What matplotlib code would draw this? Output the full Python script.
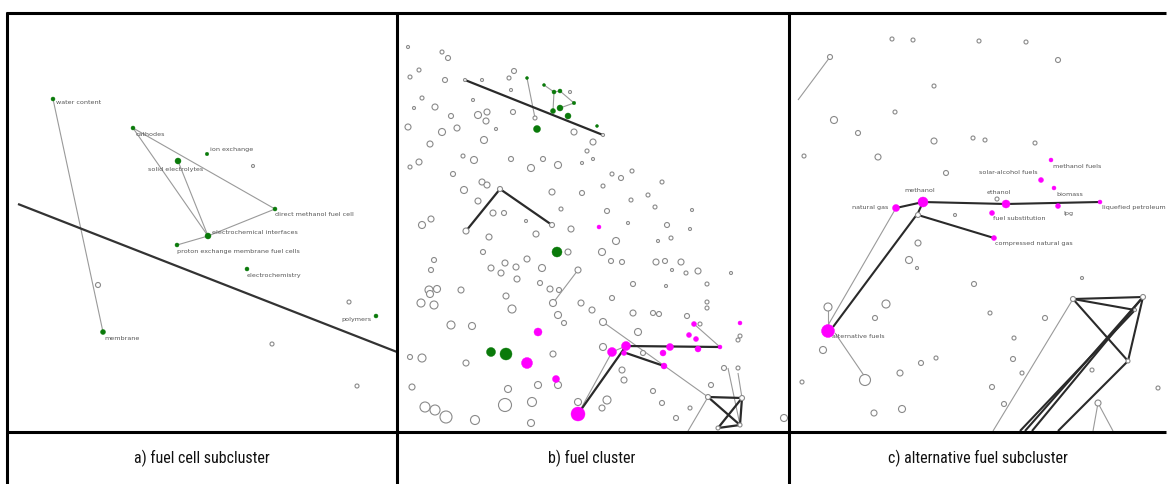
import matplotlib
matplotlib.use("Agg")
import matplotlib.pyplot as plt
from matplotlib import font_manager

W, H = 1169, 484

# ---------------- panel a: fuel cell subcluster ----------------
a_green = [(53, 99, 4), (133, 128, 4), (207, 154, 3.5), (178, 161, 6), (275, 209, 4),
           (208, 236, 6), (177, 245, 4), (247, 269, 4), (376, 316, 4), (103, 332, 5)]
a_labels = [("water content", 56, 103, "left"), ("cathodes", 136, 134, "left"),
            ("ion exchange", 210, 150, "left"), ("solid electrolytes", 148, 170, "left"),
            ("direct methanol fuel cell", 275, 214, "left"),
            ("electrochemical interfaces", 212, 233, "left"),
            ("proton exchange membrane fuel cells", 177, 251, "left"),
            ("electrochemistry", 247, 276, "left"), ("polymers", 371, 319, "right"),
            ("membrane", 104, 338, "left")]
a_gray = [(98, 285, 5), (253, 166, 3), (349, 302, 4), (272, 344, 4), (357, 386, 4)]
a_thin = [(0, 9), (1, 4), (1, 5), (3, 5), (5, 4), (6, 5)]
a_thick = [((18, 204), (397, 352))]

# ---------------- panel b: fuel cluster ----------------
b_gray = [(408, 47, 3), (442, 52, 4), (448, 58, 5), (419, 70, 4), (410, 77, 4), (445, 80, 5),
          (482, 80, 3), (509, 78, 4), (514, 71, 5), (422, 98, 4), (435, 107, 6), (414, 108, 3),
          (473, 100, 3), (451, 116, 5), (478, 115, 7), (487, 112, 6), (486, 121, 6), (513, 112, 5),
          (511, 90, 3), (408, 127, 6), (442, 132, 7), (457, 128, 6), (496, 129, 3), (430, 144, 6),
          (484, 140, 7), (535, 118, 4), (574, 132, 6), (593, 142, 6), (587, 151, 4), (593, 159, 3),
          (582, 163, 3), (410, 167, 4), (419, 162, 6), (463, 156, 4), (474, 160, 7), (511, 159, 5),
          (531, 168, 7), (543, 159, 5), (558, 165, 7), (453, 174, 5), (612, 174, 4), (621, 178, 5),
          (632, 171, 4), (662, 182, 4), (482, 182, 6), (487, 185, 6), (464, 190, 7), (552, 192, 6),
          (582, 193, 5), (603, 186, 4), (648, 195, 4), (631, 200, 4), (478, 201, 6), (570, 92, 3),
          (422, 225, 7), (431, 219, 6), (493, 213, 6), (504, 213, 5), (526, 221, 3), (536, 234, 6),
          (561, 209, 4), (571, 229, 6), (607, 211, 5), (628, 223, 3), (655, 207, 4), (667, 225, 5),
          (692, 210, 3), (690, 229, 3), (616, 241, 7), (658, 241, 3), (671, 238, 4), (489, 237, 6),
          (483, 252, 5), (568, 252, 6), (602, 252, 7), (611, 261, 5), (622, 262, 5), (656, 262, 6),
          (665, 261, 5), (681, 262, 6), (672, 270, 3), (686, 273, 4), (698, 271, 6), (731, 273, 3),
          (707, 284, 4), (434, 260, 5), (431, 270, 5), (491, 268, 6), (501, 273, 6), (505, 263, 6),
          (516, 267, 6), (527, 259, 6), (542, 268, 7), (517, 279, 6), (540, 283, 5), (550, 289, 6),
          (559, 290, 5), (633, 284, 5), (666, 286, 3), (429, 290, 8), (437, 289, 7), (461, 290, 6),
          (421, 303, 8), (434, 305, 8), (430, 294, 7), (506, 296, 6), (512, 309, 8), (553, 303, 7),
          (558, 315, 7), (564, 323, 5), (581, 303, 6), (592, 310, 6), (612, 298, 5), (633, 313, 6),
          (653, 313, 5), (659, 314, 5), (687, 316, 5), (707, 302, 4), (707, 308, 4), (451, 325, 8),
          (472, 326, 7), (638, 332, 7), (422, 358, 8), (466, 363, 6), (553, 354, 6), (603, 347, 7),
          (643, 353, 5), (700, 324, 4), (738, 340, 4), (740, 336, 4), (538, 385, 7), (558, 385, 7),
          (622, 370, 6), (624, 380, 6), (508, 389, 7), (412, 387, 6), (653, 391, 5), (662, 403, 5),
          (690, 408, 4), (724, 368, 5), (738, 368, 4), (711, 385, 5), (425, 407, 10), (435, 410, 10),
          (446, 417, 12), (505, 405, 13), (532, 402, 9), (578, 402, 7), (607, 400, 8), (602, 408, 6),
          (676, 418, 5), (475, 420, 9), (531, 423, 7), (784, 418, 7), (410, 357, 5), (603, 322, 7),
          (578, 270, 6), (465, 80, 3), (603, 135, 3), (500, 189, 5), (466, 231, 6), (552, 225, 5),
          (708, 397, 5), (742, 398, 5), (740, 425, 4), (718, 428, 4)]
b_green = [(527, 78, 3), (544, 85, 3), (554, 92, 4), (560, 91, 4), (574, 103, 3.5), (553, 111, 5),
           (560, 108, 6), (568, 116, 6), (537, 129, 7), (597, 126, 3), (557, 252, 10),
           (491, 352, 9), (506, 354, 12)]
b_magenta = [(599, 227, 4), (538, 332, 8), (527, 363, 11), (556, 379, 7), (578, 414, 14),
             (612, 352, 9), (626, 346, 9), (624, 353, 5), (670, 347, 7), (663, 353, 6),
             (664, 366, 6), (694, 324, 5), (689, 335, 5), (696, 339, 5), (698, 349, 6),
             (720, 347, 4), (740, 323, 4)]
b_thin = [((527, 78), (535, 118)), ((544, 85), (554, 92)), ((554, 92), (560, 91)),
          ((560, 91), (574, 103)), ((574, 103), (560, 108)), ((554, 92), (553, 111)),
          ((578, 270), (553, 303)), ((603, 322), (708, 397)), ((694, 324), (720, 347)),
          ((578, 414), (612, 352)), ((738, 373), (742, 398)), ((688, 431), (708, 397)),
          ((728, 368), (740, 425)), ((612, 352), (626, 346))]
b_thick = [((465, 80), (603, 135)), ((500, 189), (466, 231)), ((500, 189), (552, 225)),
           ((578, 414), (626, 346)), ((626, 346), (720, 347)), ((626, 353), (664, 366)),
           ((708, 397), (742, 398)), ((708, 397), (740, 425)), ((742, 398), (718, 428)),
           ((742, 398), (740, 425)), ((718, 428), (740, 425))]

# ---------------- panel c: alternative fuel subcluster ----------------
c_gray = [(892, 39, 4), (913, 40, 4), (979, 41, 4), (1026, 42, 4), (1058, 60, 5), (934, 86, 4),
          (895, 112, 4), (834, 120, 7), (858, 133, 5), (934, 141, 6), (973, 138, 4), (985, 140, 4),
          (1035, 143, 4), (804, 156, 4), (878, 157, 6), (946, 173, 5), (830, 57, 5), (918, 215, 5),
          (918, 243, 6), (909, 260, 7), (917, 268, 3), (974, 284, 5), (1082, 278, 3), (886, 304, 8),
          (875, 318, 5), (990, 313, 4), (1045, 318, 5), (1014, 338, 4), (823, 350, 7), (921, 363, 5),
          (936, 358, 4), (1013, 359, 5), (1022, 373, 4), (1092, 370, 4), (900, 373, 6), (802, 382, 4),
          (992, 387, 5), (1158, 388, 4), (1004, 404, 5), (874, 413, 6), (902, 409, 7), (828, 307, 8),
          (865, 380, 11), (1073, 299, 5), (1143, 297, 5), (1128, 361, 4), (1098, 403, 6),
          (997, 199, 4), (955, 215, 3), (1135, 310, 3)]
c_magenta = [(1051, 160, 4), (1041, 180, 5), (1054, 188, 4), (923, 202, 10), (1006, 204, 8),
             (1100, 202, 4), (896, 208, 7), (1058, 206, 5), (992, 213, 5), (994, 238, 5),
             (828, 331, 13)]
c_labels = [("methanol fuels", 1053, 166, "left"), ("solar-alcohol fuels", 1038, 172, "right"),
            ("biomass", 1056, 194, "left"), ("methanol", 920, 190, "center"),
            ("ethanol", 999, 193, "center"), ("liquefied petroleum", 1102, 207, "left"),
            ("natural gas", 888, 207, "right"), ("lpg", 1063, 213, "left"),
            ("fuel substitution", 993, 219, "left"), ("compressed natural gas", 995, 244, "left"),
            ("alternative fuels", 832, 337, "left")]
c_thin = [((830, 57), (798, 100)), ((896, 208), (827, 327)), ((828, 307), (828, 331)),
          ((835, 333), (865, 377)), ((1098, 403), (1093, 431)), ((1098, 403), (1113, 431)),
          ((1073, 299), (993, 431))]
c_thick = [((923, 202), (1006, 204)), ((1006, 204), (1100, 202)), ((896, 208), (923, 202)),
           ((918, 215), (994, 238)), ((918, 213), (833, 327)), ((923, 202), (918, 213)),
           ((1073, 299), (1143, 297)), ((1073, 299), (1128, 361)), ((1073, 299), (1135, 310)),
           ((1143, 297), (1128, 361)), ((1143, 297), (1025, 431)), ((1135, 310), (1020, 431)),
           ((1128, 361), (1058, 431)), ((1143, 297), (1032, 431))]

captions = ["a) fuel cell subcluster", "b) fuel cluster", "c) alternative fuel subcluster"]
caption_x = [202, 592, 978]

# ---------------- frame ----------------
frame_h = [((6, 13), (1166, 13)), ((6, 432), (1166, 432))]
frame_v = [((7, 12), (7, 484)), ((396.5, 12), (396.5, 484)), ((788.5, 12), (788.5, 484))]

GREEN = "#0a7a0a"
MAGENTA = "#ff00ff"
GRAYE = "#8a8a8a"

# choose a narrow font for the captions if one is installed
names = {f.name for f in font_manager.fontManager.ttflist}
narrow = None
for cand in ["Liberation Sans Narrow", "DejaVu Sans Condensed", "Roboto Condensed",
             "Open Sans Condensed"]:
    if cand in names:
        narrow = cand
        break
cap_kw = {}
if narrow is not None:
    cap_kw["family"] = narrow
else:
    cap_kw["family"] = "DejaVu Sans"
    cap_kw["fontstretch"] = "condensed"


def s_of(d):
    return (d * 0.72) ** 2


fig = plt.figure(figsize=(W / 100, H / 100), dpi=100)
ax = fig.add_axes([0, 0, 1, 1])
ax.set_xlim(0, W)
ax.set_ylim(H, 0)
ax.axis("off")


def draw_segments(segs, color, lw, z):
    for (p, q) in segs:
        ax.plot([p[0], q[0]], [p[1], q[1]], color=color, lw=lw, zorder=z,
                solid_capstyle="butt")


def draw_nodes(nodes, face, edge, lw, z):
    xs = [n[0] for n in nodes]
    ys = [n[1] for n in nodes]
    ss = [s_of(n[2]) for n in nodes]
    ax.scatter(xs, ys, s=ss, c=face, edgecolors=edge, linewidths=lw, zorder=z)


def draw_labels(labels):
    for (t, x, y, ha) in labels:
        ax.text(x, y, t, fontsize=4.6, color="#555555", ha=ha, va="center", zorder=6)


# panel a
a_thin_segs = [((a_green[i][0], a_green[i][1]), (a_green[j][0], a_green[j][1])) for i, j in a_thin]
draw_segments(a_thin_segs, "#9a9a9a", 0.8, 2)
draw_segments(a_thick, "#333333", 1.6, 3)
draw_nodes(a_gray, "white", GRAYE, 0.8, 4)
draw_nodes(a_green, GREEN, GREEN, 0.3, 5)
draw_labels(a_labels)

# panel b
draw_segments(b_thin, "#9a9a9a", 0.8, 2)
draw_segments(b_thick, "#2a2a2a", 1.6, 3)
draw_nodes(b_gray, "white", GRAYE, 0.8, 4)
draw_nodes(b_green, GREEN, GREEN, 0.3, 5)
draw_nodes(b_magenta, MAGENTA, MAGENTA, 0.3, 5)

# panel c
draw_segments(c_thin, "#9a9a9a", 0.8, 2)
draw_segments(c_thick, "#2a2a2a", 1.5, 3)
draw_nodes(c_gray, "white", GRAYE, 0.8, 4)
draw_nodes(c_magenta, MAGENTA, MAGENTA, 0.3, 5)
draw_labels(c_labels)

# frame
draw_segments(frame_h, "black", 2.2, 10)
draw_segments(frame_v, "black", 2.2, 10)

for t, x in zip(captions, caption_x):
    ax.text(x, 458, t, fontsize=11.5, ha="center", va="center", color="#111111", **cap_kw)

fig.savefig("out.png", dpi=100, facecolor="white")
